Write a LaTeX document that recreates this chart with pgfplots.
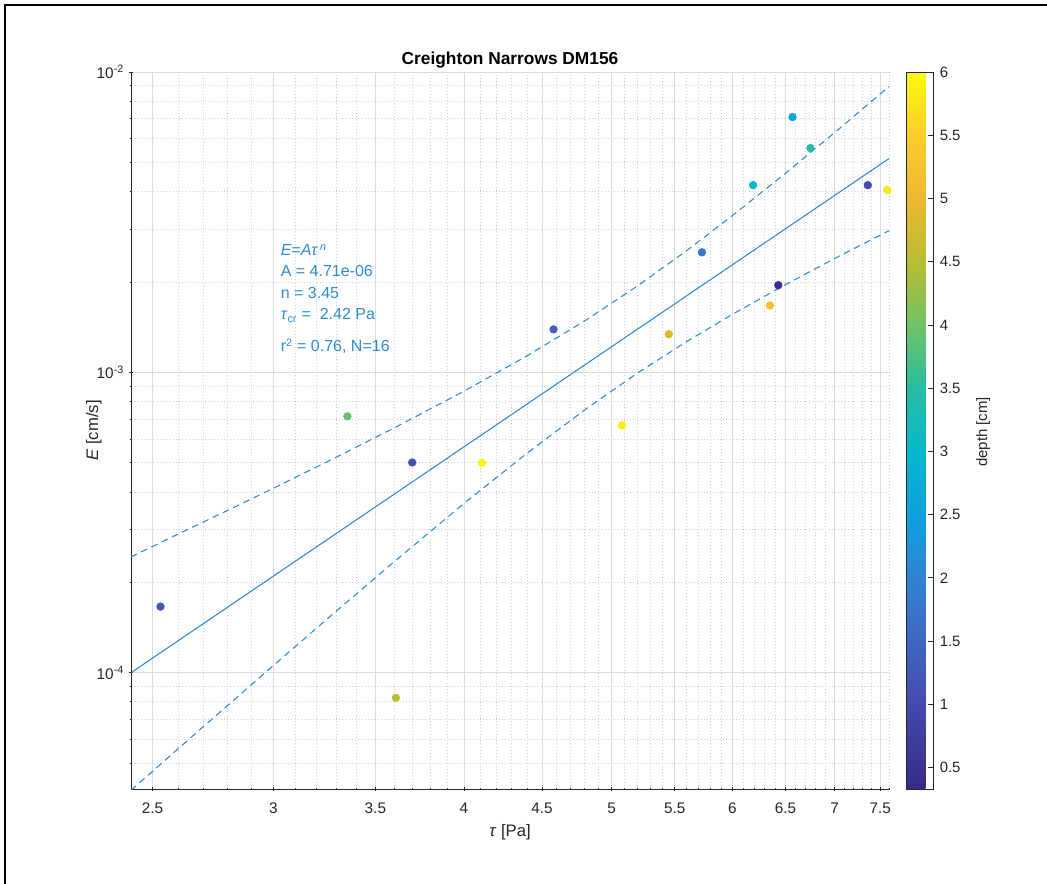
\documentclass[border=0pt]{standalone}
\usepackage{fontspec}
\setmainfont{Liberation Sans}
\usepackage{pgfplots}
\pgfplotsset{compat=1.18}
\definecolor{fitblue}{HTML}{2D8BD5}
\definecolor{axgray}{gray}{0.15}

% parula-like map, stops (0.33 ... 6 cm)
\pgfplotsset{colormap={parula}{
  rgb(0cm)=(0.21,0.17,0.53) rgb(11.8cm)=(0.27,0.29,0.68)
  rgb(20.6cm)=(0.25,0.40,0.76) rgb(29.5cm)=(0.19,0.52,0.83)
  rgb(38.3cm)=(0.05,0.63,0.88) rgb(47.1cm)=(0.02,0.72,0.80)
  rgb(55.9cm)=(0.15,0.74,0.63) rgb(64.7cm)=(0.45,0.76,0.40)
  rgb(73.5cm)=(0.72,0.74,0.20) rgb(82.4cm)=(0.93,0.72,0.19)
  rgb(91.2cm)=(0.99,0.80,0.17) rgb(100cm)=(0.976,0.983,0.054)}}

% tau [Pa], E [cm/s], depth [cm]
\pgfplotstableread{
tau    E        depth
2.53   1.66e-4  1.2
3.355  7.14e-4  3.9
3.61   8.25e-5  4.5
3.70   5.01e-4  1.1
4.11   5.00e-4  5.95
4.58   1.39e-3  1.4
5.08   6.66e-4  5.9
5.45   1.34e-3  4.8
5.73   2.51e-3  1.8
6.19   4.20e-3  3.0
6.57   7.08e-3  2.6
6.75   5.58e-3  3.4
6.35   1.67e-3  5.2
6.43   1.95e-3  0.4
7.36   4.20e-3  1.0
7.58   4.05e-3  5.8
}\erosion

\begin{document}
\begin{tikzpicture}
\useasboundingbox (0,0) rectangle (785.25pt,663pt);
\draw[line width=1.5pt] (4.1pt,0) -- (4.1pt,659.25pt) -- (785.25pt,659.25pt);

\begin{axis}[
    at={(98.25pt,71.25pt)}, anchor=south west,
    scale only axis, width=568.5pt, height=537.75pt,
    xmode=log, ymode=log,
    xmin=2.42, xmax=7.6, ymin=4.1e-5, ymax=1e-2,
    axis lines=left,
    axis line style={-, axgray, line width=0.6pt},
    tick style={axgray, line width=0.5pt},
    major tick length=3.5pt, minor tick length=2pt,
    xtick={2.5,3,3.5,4,4.5,5,5.5,6,6.5,7,7.5},
    xticklabels={2.5,3,3.5,4,4.5,5,5.5,6,6.5,7,7.5},
    minor xtick={2.6,2.7,2.8,2.9,3.1,3.2,3.3,3.4,3.6,3.7,3.8,3.9,4.1,4.2,4.3,4.4,4.6,4.7,4.8,4.9,5.1,5.2,5.3,5.4,5.6,5.7,5.8,5.9,6.1,6.2,6.3,6.4,6.6,6.7,6.8,6.9,7.1,7.2,7.3,7.4,7.6},
    ytick={1e-4,1e-3,1e-2},
    yticklabels={10\textsuperscript{-4},10\textsuperscript{-3},10\textsuperscript{-2}},
    minor ytick={5e-5,6e-5,7e-5,8e-5,9e-5,2e-4,3e-4,4e-4,5e-4,6e-4,7e-4,8e-4,9e-4,2e-3,3e-3,4e-3,5e-3,6e-3,7e-3,8e-3,9e-3},
    grid=both,
    major grid style={gray!28, line width=0.5pt},
    minor grid style={gray!40, line width=0.5pt, dash pattern=on 0.6pt off 1.8pt},
    tick label style={font=\fontsize{11.5}{13}\selectfont, text=axgray},
    xticklabel style={yshift=-5pt},
    title={Creighton Narrows DM156},
    title style={font=\fontsize{13}{15}\selectfont\bfseries, at={(0.5,1.0109)}, anchor=base, yshift=-6pt},
    xlabel={\textit{τ} [Pa]},
    xlabel style={font=\fontsize{12.5}{14}\selectfont, text=axgray, at={(0.5,-0.0656)}, anchor=base},
    ylabel={\textit{E} [cm/s]},
    ylabel style={font=\fontsize{12.5}{14}\selectfont, text=axgray, at={(-0.0435,0.5)}, anchor=base, rotate=0},
    colormap name=parula,
    point meta min=0.33, point meta max=6,
    colorbar,
    colorbar style={
        at={(parent axis.north east)}, anchor=north west, xshift=4.5pt,
        scale only axis, width=20pt, height=537.75pt,
        ytick={0.5,1,1.5,2,2.5,3,3.5,4,4.5,5,5.5,6},
        ytick pos=right, yticklabel pos=right, tick align=inside,
        major tick length=3.5pt,
        axis line style={axgray, line width=0.6pt},
        tick style={axgray, line width=0.5pt},
        yticklabel style={font=\fontsize{11.2}{13}\selectfont, text=axgray, xshift=1.5pt},
        /pgf/number format/assume math mode=true,
    },
    /pgf/number format/assume math mode=true,
    clip mode=individual,
]
\addplot[fitblue, line width=0.8pt] coordinates {(2.42,1.0e-4) (7.6,5.15e-3)};
\addplot[fitblue, line width=0.8pt, dash pattern=on 5pt off 3.5pt] coordinates {
    (2.42,2.43e-4) (2.6,2.90e-4) (2.8,3.47e-4) (3.0,4.11e-4) (3.3,5.22e-4)
    (3.6,6.53e-4) (4.0,8.65e-4) (4.4,1.135e-3) (4.8,1.483e-3) (5.2,1.942e-3)
    (5.6,2.544e-3) (6.0,3.327e-3) (6.5,4.60e-3) (7.0,6.28e-3) (7.6,8.95e-3)};
\addplot[fitblue, line width=0.8pt, dash pattern=on 5pt off 3.5pt] coordinates {
    (2.42,4.06e-5) (2.6,5.60e-5) (2.8,7.78e-5) (3.0,1.056e-4) (3.3,1.605e-4)
    (3.6,2.34e-4) (4.0,3.66e-4) (4.4,5.38e-4) (4.8,7.50e-4) (5.2,9.96e-4)
    (5.6,1.267e-3) (6.0,1.561e-3) (6.5,1.959e-3) (7.0,2.393e-3) (7.6,2.963e-3)};
\addplot[scatter, only marks, mark=*, mark size=2.9pt, scatter src=explicit,
    scatter/use mapped color={draw=mapped color, fill=mapped color}]
    table[x=tau, y=E, meta=depth] {\erosion};
\end{axis}

\begin{scope}[fitblue, font=\fontsize{12}{14}\selectfont]
\node[anchor=base west, inner sep=0] at (210.4pt,471pt) {\textit{E=Aτ\,\textsuperscript{n}}};
\node[anchor=base west, inner sep=0] at (210.4pt,455.25pt) {A = 4.71e-06};
\node[anchor=base west, inner sep=0] at (210.4pt,438.75pt) {n = 3.45};
\node[anchor=base west, inner sep=0] at (210.4pt,423pt) {\textit{τ}\textsubscript{cr} =\ \ 2.42 Pa};
\node[anchor=base west, inner sep=0] at (210.4pt,399pt) {r\textsuperscript{2} = 0.76, N=16};
\end{scope}
\node[rotate=90, text=axgray, font=\fontsize{11.2}{13}\selectfont] at (737.5pt,339pt) {depth [cm]};
\end{tikzpicture}
\end{document}
